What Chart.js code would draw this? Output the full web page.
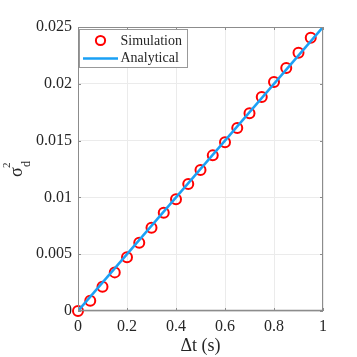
<!DOCTYPE html>
<html>
<head>
<meta charset="utf-8">
<script src="https://cdn.jsdelivr.net/npm/chart.js@4"></script>
<style>
  html, body { margin: 0; padding: 0; background: #fff; }
  #wrap { width: 357px; height: 357px; }
</style>
</head>
<body>
<div id="wrap"><canvas id="myChart" width="357" height="357"></canvas></div>
<script>
// dane
const simX = [0, 0.05, 0.1, 0.15, 0.2, 0.25, 0.3, 0.35, 0.4, 0.45, 0.5, 0.55, 0.6, 0.65, 0.7, 0.75, 0.8, 0.85, 0.9, 0.95];
const simY = [0, 0.0009, 0.00214, 0.0034, 0.00473, 0.00601, 0.00733, 0.00865, 0.00983, 0.01118, 0.01241, 0.0137, 0.01485, 0.01611, 0.0174, 0.01884, 0.02016, 0.02139, 0.02274, 0.02406];
const lineX = [0, 1];
const lineY = [0, 0.025];
const xTickLabels = ["0", "0.2", "0.4", "0.6", "0.8", "1"];
const yTickLabels = ["0", "0.005", "0.01", "0.015", "0.02", "0.025"];
const seriesNames = ["Simulation", "Analytical"];

const FONT = "'Liberation Serif', 'Times New Roman', serif";
const TEXT = '#262626';
const AXIS = '#8c8c8c';

const simPts = simX.map((x, i) => ({x: x, y: simY[i]}));
const linePts = lineX.map((x, i) => ({x: x, y: lineY[i]}));

// ramka, ticki do środka, legenda i opis osi y
const boxPlugin = {
  id: 'boxPlugin',
  afterDraw(chart) {
    const ctx = chart.ctx;
    const a = chart.chartArea;
    const xs = chart.scales.x;
    const ys = chart.scales.y;
    ctx.save();
    ctx.strokeStyle = AXIS;
    ctx.lineWidth = 1;
    ctx.strokeRect(a.left + 0.5, a.top + 0.5, a.right - a.left - 1, a.bottom - a.top - 1);
    // bottom axis looks a bit heavier
    ctx.beginPath();
    ctx.moveTo(a.left, a.bottom - 0.5);
    ctx.lineTo(a.right, a.bottom - 0.5);
    ctx.lineWidth = 1.5;
    ctx.stroke();
    ctx.lineWidth = 1;
    ctx.beginPath();
    xs.ticks.forEach(t => {
      const px = Math.round(xs.getPixelForValue(t.value)) + 0.5;
      ctx.moveTo(px, a.bottom); ctx.lineTo(px, a.bottom - 3);
      ctx.moveTo(px, a.top); ctx.lineTo(px, a.top + 3);
    });
    ys.ticks.forEach(t => {
      const py = Math.round(ys.getPixelForValue(t.value)) + 0.5;
      ctx.moveTo(a.left, py); ctx.lineTo(a.left + 3, py);
      ctx.moveTo(a.right, py); ctx.lineTo(a.right - 3, py);
    });
    ctx.stroke();

    // legenda w środku wykresu
    const lx = 79.5, ly = 29.5, lw = 108, lh = 38;
    ctx.fillStyle = '#fff';
    ctx.fillRect(lx, ly, lw, lh);
    ctx.strokeStyle = '#999';
    ctx.strokeRect(lx, ly, lw, lh);
    ctx.strokeStyle = '#ff0000';
    ctx.lineWidth = 2;
    ctx.beginPath();
    ctx.arc(100.5, 40.5, 4.6, 0, Math.PI * 2);
    ctx.stroke();
    ctx.strokeStyle = '#1aa0f5';
    ctx.lineWidth = 2.5;
    ctx.beginPath();
    ctx.moveTo(83, 58.5); ctx.lineTo(118, 58.5);
    ctx.stroke();
    ctx.fillStyle = TEXT;
    ctx.font = "14px " + FONT;
    ctx.textBaseline = 'middle';
    ctx.textAlign = 'left';
    ctx.fillText(seriesNames[0], 120.5, 41);
    ctx.fillText(seriesNames[1], 120.5, 58);

    // sigma_d^2
    ctx.translate(22, 177);
    ctx.rotate(-Math.PI / 2);
    ctx.textBaseline = 'alphabetic';
    ctx.font = "18px " + FONT;
    ctx.fillText('σ', 0, 0);
    ctx.font = "11px " + FONT;
    ctx.fillText('2', 9, -12);
    ctx.font = "12px " + FONT;
    ctx.fillText('d', 10, 8);
    ctx.restore();
  }
};

const ctx = document.getElementById('myChart');
const myChart = new Chart(ctx, {
  data: {
    datasets: [
      {
        type: 'line',
        label: seriesNames[1],
        data: linePts,
        borderColor: '#1aa0f5',
        borderWidth: 2.5,
        pointRadius: 0,
        fill: false,
        order: 0
      },
      {
        type: 'scatter',
        label: seriesNames[0],
        data: simPts,
        borderColor: '#ff0000',
        backgroundColor: 'rgba(0,0,0,0)',
        borderWidth: 2,
        pointRadius: 5,
        pointStyle: 'circle',
        clip: false,
        order: 1
      }
    ]
  },
  options: {
    responsive: false,
    animation: false,
    layout: { padding: { top: 27, right: 34, left: 0, bottom: 0 } },
    plugins: { legend: { display: false }, tooltip: { enabled: false } },
    scales: {
      x: {
        type: 'linear',
        min: 0, max: 1,
        afterFit: s => { s.height = 46; },
        afterBuildTicks: s => { s.ticks = xTickLabels.map(v => ({value: parseFloat(v)})); },
        ticks: {
          padding: 6,
          color: TEXT,
          font: { family: FONT, size: 16 },
          maxRotation: 0,
          callback: (v, i) => xTickLabels[i]
        },
        grid: { color: '#ebebeb', drawTicks: false },
        border: { display: false },
        title: {
          display: true,
          text: 'Δt (s)',
          color: TEXT,
          font: { family: FONT, size: 18 },
          padding: { top: 2, bottom: 0 }
        }
      },
      y: {
        type: 'linear',
        min: 0, max: 0.025,
        afterFit: s => { s.width = 78; },
        afterBuildTicks: s => { s.ticks = yTickLabels.map(v => ({value: parseFloat(v)})); },
        ticks: {
          padding: 6,
          color: TEXT,
          font: { family: FONT, size: 16 },
          callback: (v, i) => yTickLabels[i]
        },
        grid: { color: '#ebebeb', drawTicks: false },
        border: { display: false }
      }
    }
  },
  plugins: [boxPlugin]
});
</script>
</body>
</html>
